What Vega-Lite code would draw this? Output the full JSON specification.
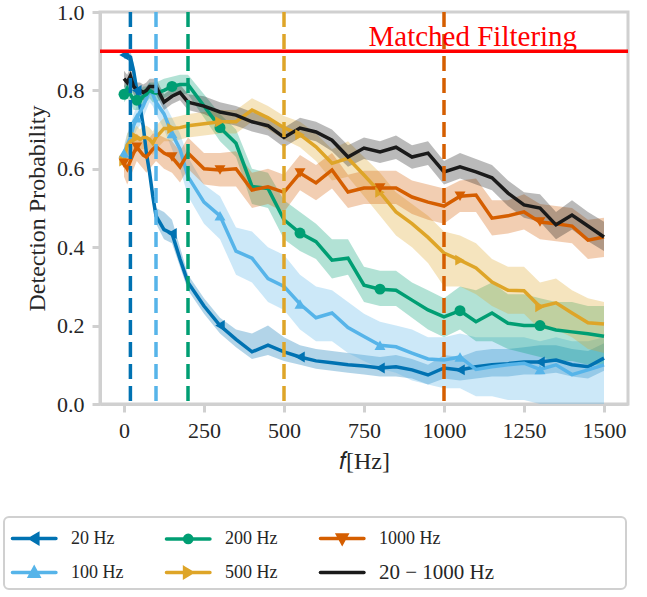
{
  "$schema": "https://vega.github.io/schema/vega-lite/v6.json",
  "width": 528,
  "height": 392,
  "autosize": "none",
  "padding": {"left": 100, "top": 12, "right": 19, "bottom": 193},
  "background": "white",
  "config": {
    "font": "Liberation Serif",
    "view": {"stroke": "#d0d0d0", "strokeWidth": 3},
    "axis": {
      "domainColor": "#d0d0d0", "domainWidth": 3, "tickColor": "#d0d0d0", "tickWidth": 3, "tickSize": 8,
      "grid": false, "labelFontSize": 22, "labelColor": "#262626", "titleFontSize": 24, "titleColor": "#262626",
      "titleFontWeight": "normal", "labelFont": "Liberation Serif", "titleFont": "Liberation Serif",
      "labelPadding": 8, "labelOverlap": false
    }
  },
  "datasets": {
    "curves": [
      {"s":"20 Hz","x":0,"y":0.89,"l":0.88,"h":0.9,"m":1},
      {"s":"20 Hz","x":10,"y":0.89,"l":0.88,"h":0.9},
      {"s":"20 Hz","x":20,"y":0.885,"l":0.87,"h":0.9},
      {"s":"20 Hz","x":30,"y":0.85,"l":0.83,"h":0.87},
      {"s":"20 Hz","x":40,"y":0.8,"l":0.78,"h":0.82,"m":1},
      {"s":"20 Hz","x":50,"y":0.76,"l":0.74,"h":0.78},
      {"s":"20 Hz","x":60,"y":0.71,"l":0.69,"h":0.73},
      {"s":"20 Hz","x":70,"y":0.64,"l":0.62,"h":0.66},
      {"s":"20 Hz","x":80,"y":0.59,"l":0.57,"h":0.61},
      {"s":"20 Hz","x":90,"y":0.53,"l":0.51,"h":0.55},
      {"s":"20 Hz","x":100,"y":0.48,"l":0.46,"h":0.5},
      {"s":"20 Hz","x":125,"y":0.445,"l":0.42,"h":0.49},
      {"s":"20 Hz","x":150,"y":0.435,"l":0.41,"h":0.47,"m":1},
      {"s":"20 Hz","x":175,"y":0.37,"l":0.35,"h":0.4},
      {"s":"20 Hz","x":200,"y":0.31,"l":0.29,"h":0.33},
      {"s":"20 Hz","x":250,"y":0.25,"l":0.23,"h":0.27},
      {"s":"20 Hz","x":300,"y":0.2,"l":0.18,"h":0.22,"m":1},
      {"s":"20 Hz","x":350,"y":0.165,"l":0.145,"h":0.19},
      {"s":"20 Hz","x":400,"y":0.133,"l":0.115,"h":0.18},
      {"s":"20 Hz","x":450,"y":0.15,"l":0.125,"h":0.2},
      {"s":"20 Hz","x":500,"y":0.133,"l":0.11,"h":0.17},
      {"s":"20 Hz","x":550,"y":0.12,"l":0.1,"h":0.15,"m":1},
      {"s":"20 Hz","x":600,"y":0.11,"l":0.09,"h":0.14},
      {"s":"20 Hz","x":650,"y":0.105,"l":0.085,"h":0.135},
      {"s":"20 Hz","x":700,"y":0.1,"l":0.08,"h":0.13},
      {"s":"20 Hz","x":750,"y":0.097,"l":0.075,"h":0.125},
      {"s":"20 Hz","x":800,"y":0.092,"l":0.07,"h":0.12,"m":1},
      {"s":"20 Hz","x":850,"y":0.095,"l":0.07,"h":0.125},
      {"s":"20 Hz","x":900,"y":0.087,"l":0.065,"h":0.115},
      {"s":"20 Hz","x":950,"y":0.074,"l":0.05,"h":0.1},
      {"s":"20 Hz","x":1000,"y":0.092,"l":0.065,"h":0.125},
      {"s":"20 Hz","x":1050,"y":0.087,"l":0.06,"h":0.12,"m":1},
      {"s":"20 Hz","x":1100,"y":0.095,"l":0.065,"h":0.135},
      {"s":"20 Hz","x":1150,"y":0.1,"l":0.07,"h":0.14},
      {"s":"20 Hz","x":1200,"y":0.103,"l":0.07,"h":0.14},
      {"s":"20 Hz","x":1250,"y":0.107,"l":0.075,"h":0.145},
      {"s":"20 Hz","x":1300,"y":0.107,"l":0.075,"h":0.15,"m":1},
      {"s":"20 Hz","x":1350,"y":0.112,"l":0.08,"h":0.15},
      {"s":"20 Hz","x":1400,"y":0.1,"l":0.07,"h":0.14},
      {"s":"20 Hz","x":1450,"y":0.095,"l":0.065,"h":0.135},
      {"s":"20 Hz","x":1500,"y":0.117,"l":0.085,"h":0.155},

      {"s":"100 Hz","x":0,"y":0.64,"l":0.62,"h":0.66,"m":1},
      {"s":"100 Hz","x":10,"y":0.66,"l":0.63,"h":0.69},
      {"s":"100 Hz","x":20,"y":0.68,"l":0.65,"h":0.71},
      {"s":"100 Hz","x":30,"y":0.71,"l":0.68,"h":0.74},
      {"s":"100 Hz","x":40,"y":0.73,"l":0.7,"h":0.76,"m":1},
      {"s":"100 Hz","x":50,"y":0.745,"l":0.71,"h":0.78},
      {"s":"100 Hz","x":60,"y":0.76,"l":0.73,"h":0.79},
      {"s":"100 Hz","x":70,"y":0.78,"l":0.75,"h":0.81},
      {"s":"100 Hz","x":80,"y":0.8,"l":0.77,"h":0.82},
      {"s":"100 Hz","x":90,"y":0.79,"l":0.76,"h":0.81},
      {"s":"100 Hz","x":100,"y":0.77,"l":0.74,"h":0.8},
      {"s":"100 Hz","x":125,"y":0.74,"l":0.7,"h":0.77},
      {"s":"100 Hz","x":150,"y":0.69,"l":0.65,"h":0.73,"m":1},
      {"s":"100 Hz","x":175,"y":0.65,"l":0.6,"h":0.69},
      {"s":"100 Hz","x":200,"y":0.58,"l":0.53,"h":0.63},
      {"s":"100 Hz","x":250,"y":0.515,"l":0.46,"h":0.56},
      {"s":"100 Hz","x":300,"y":0.48,"l":0.42,"h":0.53,"m":1},
      {"s":"100 Hz","x":350,"y":0.39,"l":0.33,"h":0.45},
      {"s":"100 Hz","x":400,"y":0.372,"l":0.31,"h":0.44},
      {"s":"100 Hz","x":450,"y":0.32,"l":0.26,"h":0.4},
      {"s":"100 Hz","x":500,"y":0.3,"l":0.24,"h":0.38},
      {"s":"100 Hz","x":550,"y":0.255,"l":0.19,"h":0.33,"m":1},
      {"s":"100 Hz","x":600,"y":0.22,"l":0.16,"h":0.3},
      {"s":"100 Hz","x":650,"y":0.232,"l":0.16,"h":0.29},
      {"s":"100 Hz","x":700,"y":0.195,"l":0.13,"h":0.26},
      {"s":"100 Hz","x":750,"y":0.172,"l":0.11,"h":0.23},
      {"s":"100 Hz","x":800,"y":0.15,"l":0.09,"h":0.21,"m":1},
      {"s":"100 Hz","x":850,"y":0.146,"l":0.08,"h":0.2},
      {"s":"100 Hz","x":900,"y":0.13,"l":0.06,"h":0.19},
      {"s":"100 Hz","x":950,"y":0.115,"l":0.05,"h":0.17},
      {"s":"100 Hz","x":1000,"y":0.112,"l":0.04,"h":0.17},
      {"s":"100 Hz","x":1050,"y":0.12,"l":0.04,"h":0.18,"m":1},
      {"s":"100 Hz","x":1100,"y":0.088,"l":0.02,"h":0.17},
      {"s":"100 Hz","x":1150,"y":0.095,"l":0.02,"h":0.17},
      {"s":"100 Hz","x":1200,"y":0.1,"l":0.01,"h":0.17},
      {"s":"100 Hz","x":1250,"y":0.104,"l":0.01,"h":0.17},
      {"s":"100 Hz","x":1300,"y":0.088,"l":0.0,"h":0.16,"m":1},
      {"s":"100 Hz","x":1350,"y":0.1,"l":0.0,"h":0.17},
      {"s":"100 Hz","x":1400,"y":0.075,"l":0.0,"h":0.16},
      {"s":"100 Hz","x":1450,"y":0.087,"l":0.0,"h":0.16},
      {"s":"100 Hz","x":1500,"y":0.1,"l":0.0,"h":0.17},

      {"s":"200 Hz","x":0,"y":0.79,"l":0.77,"h":0.81,"m":1},
      {"s":"200 Hz","x":10,"y":0.805,"l":0.78,"h":0.83},
      {"s":"200 Hz","x":20,"y":0.79,"l":0.77,"h":0.81},
      {"s":"200 Hz","x":30,"y":0.775,"l":0.75,"h":0.8},
      {"s":"200 Hz","x":40,"y":0.775,"l":0.75,"h":0.8,"m":1},
      {"s":"200 Hz","x":50,"y":0.775,"l":0.75,"h":0.8},
      {"s":"200 Hz","x":60,"y":0.785,"l":0.76,"h":0.81},
      {"s":"200 Hz","x":70,"y":0.79,"l":0.77,"h":0.81},
      {"s":"200 Hz","x":80,"y":0.8,"l":0.78,"h":0.82},
      {"s":"200 Hz","x":90,"y":0.795,"l":0.77,"h":0.82},
      {"s":"200 Hz","x":100,"y":0.793,"l":0.77,"h":0.82},
      {"s":"200 Hz","x":125,"y":0.8,"l":0.78,"h":0.83},
      {"s":"200 Hz","x":150,"y":0.81,"l":0.79,"h":0.835,"m":1},
      {"s":"200 Hz","x":175,"y":0.815,"l":0.79,"h":0.84},
      {"s":"200 Hz","x":200,"y":0.815,"l":0.79,"h":0.84},
      {"s":"200 Hz","x":250,"y":0.76,"l":0.73,"h":0.79},
      {"s":"200 Hz","x":300,"y":0.705,"l":0.67,"h":0.74,"m":1},
      {"s":"200 Hz","x":350,"y":0.665,"l":0.63,"h":0.7},
      {"s":"200 Hz","x":400,"y":0.555,"l":0.51,"h":0.6},
      {"s":"200 Hz","x":450,"y":0.55,"l":0.5,"h":0.59},
      {"s":"200 Hz","x":500,"y":0.47,"l":0.42,"h":0.52},
      {"s":"200 Hz","x":550,"y":0.436,"l":0.39,"h":0.49,"m":1},
      {"s":"200 Hz","x":600,"y":0.414,"l":0.37,"h":0.46},
      {"s":"200 Hz","x":650,"y":0.367,"l":0.32,"h":0.42},
      {"s":"200 Hz","x":700,"y":0.372,"l":0.33,"h":0.42},
      {"s":"200 Hz","x":750,"y":0.303,"l":0.26,"h":0.35},
      {"s":"200 Hz","x":800,"y":0.293,"l":0.25,"h":0.34,"m":1},
      {"s":"200 Hz","x":850,"y":0.29,"l":0.25,"h":0.34},
      {"s":"200 Hz","x":900,"y":0.265,"l":0.22,"h":0.31},
      {"s":"200 Hz","x":950,"y":0.24,"l":0.19,"h":0.29},
      {"s":"200 Hz","x":1000,"y":0.222,"l":0.17,"h":0.27},
      {"s":"200 Hz","x":1050,"y":0.238,"l":0.19,"h":0.3,"m":1},
      {"s":"200 Hz","x":1100,"y":0.21,"l":0.16,"h":0.29},
      {"s":"200 Hz","x":1150,"y":0.232,"l":0.16,"h":0.31},
      {"s":"200 Hz","x":1200,"y":0.206,"l":0.14,"h":0.28},
      {"s":"200 Hz","x":1250,"y":0.2,"l":0.13,"h":0.28},
      {"s":"200 Hz","x":1300,"y":0.2,"l":0.12,"h":0.27,"m":1},
      {"s":"200 Hz","x":1350,"y":0.189,"l":0.11,"h":0.26},
      {"s":"200 Hz","x":1400,"y":0.184,"l":0.11,"h":0.26},
      {"s":"200 Hz","x":1450,"y":0.179,"l":0.1,"h":0.25},
      {"s":"200 Hz","x":1500,"y":0.173,"l":0.1,"h":0.25},

      {"s":"500 Hz","x":0,"y":0.62,"l":0.59,"h":0.65,"m":1},
      {"s":"500 Hz","x":10,"y":0.66,"l":0.63,"h":0.69},
      {"s":"500 Hz","x":20,"y":0.67,"l":0.64,"h":0.7},
      {"s":"500 Hz","x":30,"y":0.675,"l":0.65,"h":0.7},
      {"s":"500 Hz","x":40,"y":0.68,"l":0.65,"h":0.71,"m":1},
      {"s":"500 Hz","x":50,"y":0.675,"l":0.65,"h":0.7},
      {"s":"500 Hz","x":60,"y":0.68,"l":0.65,"h":0.71},
      {"s":"500 Hz","x":70,"y":0.68,"l":0.65,"h":0.71},
      {"s":"500 Hz","x":80,"y":0.675,"l":0.645,"h":0.705},
      {"s":"500 Hz","x":90,"y":0.665,"l":0.635,"h":0.695},
      {"s":"500 Hz","x":100,"y":0.68,"l":0.65,"h":0.71},
      {"s":"500 Hz","x":125,"y":0.703,"l":0.67,"h":0.73},
      {"s":"500 Hz","x":150,"y":0.703,"l":0.67,"h":0.73,"m":1},
      {"s":"500 Hz","x":175,"y":0.705,"l":0.675,"h":0.735},
      {"s":"500 Hz","x":200,"y":0.71,"l":0.68,"h":0.74},
      {"s":"500 Hz","x":250,"y":0.715,"l":0.685,"h":0.745},
      {"s":"500 Hz","x":300,"y":0.72,"l":0.69,"h":0.75,"m":1},
      {"s":"500 Hz","x":350,"y":0.72,"l":0.69,"h":0.75},
      {"s":"500 Hz","x":400,"y":0.75,"l":0.72,"h":0.78},
      {"s":"500 Hz","x":450,"y":0.73,"l":0.7,"h":0.76},
      {"s":"500 Hz","x":500,"y":0.705,"l":0.675,"h":0.735},
      {"s":"500 Hz","x":550,"y":0.687,"l":0.655,"h":0.72,"m":1},
      {"s":"500 Hz","x":600,"y":0.656,"l":0.62,"h":0.69},
      {"s":"500 Hz","x":650,"y":0.614,"l":0.57,"h":0.65},
      {"s":"500 Hz","x":700,"y":0.627,"l":0.58,"h":0.67},
      {"s":"500 Hz","x":750,"y":0.584,"l":0.53,"h":0.63},
      {"s":"500 Hz","x":800,"y":0.54,"l":0.48,"h":0.59,"m":1},
      {"s":"500 Hz","x":850,"y":0.49,"l":0.43,"h":0.54},
      {"s":"500 Hz","x":900,"y":0.46,"l":0.4,"h":0.51},
      {"s":"500 Hz","x":950,"y":0.425,"l":0.36,"h":0.48},
      {"s":"500 Hz","x":1000,"y":0.385,"l":0.3,"h":0.44},
      {"s":"500 Hz","x":1050,"y":0.367,"l":0.3,"h":0.43,"m":1},
      {"s":"500 Hz","x":1100,"y":0.347,"l":0.28,"h":0.41},
      {"s":"500 Hz","x":1150,"y":0.311,"l":0.25,"h":0.37},
      {"s":"500 Hz","x":1200,"y":0.29,"l":0.23,"h":0.35},
      {"s":"500 Hz","x":1250,"y":0.289,"l":0.23,"h":0.35},
      {"s":"500 Hz","x":1300,"y":0.248,"l":0.19,"h":0.31,"m":1},
      {"s":"500 Hz","x":1350,"y":0.258,"l":0.19,"h":0.32},
      {"s":"500 Hz","x":1400,"y":0.232,"l":0.17,"h":0.29},
      {"s":"500 Hz","x":1450,"y":0.207,"l":0.14,"h":0.27},
      {"s":"500 Hz","x":1500,"y":0.204,"l":0.13,"h":0.26},

      {"s":"1000 Hz","x":0,"y":0.614,"l":0.58,"h":0.65,"m":1},
      {"s":"1000 Hz","x":10,"y":0.6,"l":0.56,"h":0.64},
      {"s":"1000 Hz","x":20,"y":0.62,"l":0.58,"h":0.66},
      {"s":"1000 Hz","x":30,"y":0.64,"l":0.6,"h":0.68},
      {"s":"1000 Hz","x":40,"y":0.655,"l":0.62,"h":0.69,"m":1},
      {"s":"1000 Hz","x":50,"y":0.645,"l":0.61,"h":0.68},
      {"s":"1000 Hz","x":60,"y":0.635,"l":0.6,"h":0.67},
      {"s":"1000 Hz","x":70,"y":0.63,"l":0.59,"h":0.67},
      {"s":"1000 Hz","x":80,"y":0.64,"l":0.6,"h":0.68},
      {"s":"1000 Hz","x":90,"y":0.65,"l":0.61,"h":0.69},
      {"s":"1000 Hz","x":100,"y":0.657,"l":0.62,"h":0.69},
      {"s":"1000 Hz","x":125,"y":0.64,"l":0.6,"h":0.68},
      {"s":"1000 Hz","x":150,"y":0.63,"l":0.59,"h":0.67,"m":1},
      {"s":"1000 Hz","x":175,"y":0.605,"l":0.565,"h":0.645},
      {"s":"1000 Hz","x":200,"y":0.64,"l":0.6,"h":0.68},
      {"s":"1000 Hz","x":250,"y":0.6,"l":0.56,"h":0.64},
      {"s":"1000 Hz","x":300,"y":0.597,"l":0.555,"h":0.64,"m":1},
      {"s":"1000 Hz","x":350,"y":0.6,"l":0.555,"h":0.645},
      {"s":"1000 Hz","x":400,"y":0.546,"l":0.5,"h":0.59},
      {"s":"1000 Hz","x":450,"y":0.554,"l":0.51,"h":0.6},
      {"s":"1000 Hz","x":500,"y":0.54,"l":0.49,"h":0.585},
      {"s":"1000 Hz","x":550,"y":0.589,"l":0.545,"h":0.635,"m":1},
      {"s":"1000 Hz","x":600,"y":0.564,"l":0.52,"h":0.61},
      {"s":"1000 Hz","x":650,"y":0.597,"l":0.55,"h":0.64},
      {"s":"1000 Hz","x":700,"y":0.541,"l":0.5,"h":0.585},
      {"s":"1000 Hz","x":750,"y":0.551,"l":0.51,"h":0.595},
      {"s":"1000 Hz","x":800,"y":0.551,"l":0.51,"h":0.595,"m":1},
      {"s":"1000 Hz","x":850,"y":0.551,"l":0.51,"h":0.595},
      {"s":"1000 Hz","x":900,"y":0.528,"l":0.485,"h":0.57},
      {"s":"1000 Hz","x":950,"y":0.515,"l":0.47,"h":0.56},
      {"s":"1000 Hz","x":1000,"y":0.505,"l":0.46,"h":0.55},
      {"s":"1000 Hz","x":1050,"y":0.53,"l":0.49,"h":0.57,"m":1},
      {"s":"1000 Hz","x":1100,"y":0.533,"l":0.49,"h":0.575},
      {"s":"1000 Hz","x":1150,"y":0.474,"l":0.43,"h":0.52},
      {"s":"1000 Hz","x":1200,"y":0.48,"l":0.435,"h":0.52},
      {"s":"1000 Hz","x":1250,"y":0.49,"l":0.445,"h":0.535},
      {"s":"1000 Hz","x":1300,"y":0.464,"l":0.42,"h":0.51,"m":1},
      {"s":"1000 Hz","x":1350,"y":0.46,"l":0.415,"h":0.505},
      {"s":"1000 Hz","x":1400,"y":0.454,"l":0.41,"h":0.5},
      {"s":"1000 Hz","x":1450,"y":0.418,"l":0.37,"h":0.47},
      {"s":"1000 Hz","x":1500,"y":0.426,"l":0.375,"h":0.475},

      {"s":"20 − 1000 Hz","x":0,"y":0.83,"l":0.81,"h":0.85},
      {"s":"20 − 1000 Hz","x":10,"y":0.82,"l":0.8,"h":0.84},
      {"s":"20 − 1000 Hz","x":20,"y":0.837,"l":0.815,"h":0.86},
      {"s":"20 − 1000 Hz","x":30,"y":0.81,"l":0.79,"h":0.83},
      {"s":"20 − 1000 Hz","x":40,"y":0.8,"l":0.78,"h":0.82},
      {"s":"20 − 1000 Hz","x":50,"y":0.8,"l":0.78,"h":0.82},
      {"s":"20 − 1000 Hz","x":60,"y":0.795,"l":0.775,"h":0.815},
      {"s":"20 − 1000 Hz","x":70,"y":0.8,"l":0.78,"h":0.82},
      {"s":"20 − 1000 Hz","x":80,"y":0.81,"l":0.79,"h":0.83},
      {"s":"20 − 1000 Hz","x":90,"y":0.81,"l":0.79,"h":0.83},
      {"s":"20 − 1000 Hz","x":100,"y":0.81,"l":0.79,"h":0.83},
      {"s":"20 − 1000 Hz","x":125,"y":0.77,"l":0.75,"h":0.79},
      {"s":"20 − 1000 Hz","x":150,"y":0.785,"l":0.765,"h":0.805},
      {"s":"20 − 1000 Hz","x":175,"y":0.795,"l":0.775,"h":0.815},
      {"s":"20 − 1000 Hz","x":200,"y":0.77,"l":0.75,"h":0.79},
      {"s":"20 − 1000 Hz","x":250,"y":0.76,"l":0.74,"h":0.785},
      {"s":"20 − 1000 Hz","x":300,"y":0.745,"l":0.72,"h":0.77},
      {"s":"20 − 1000 Hz","x":350,"y":0.737,"l":0.71,"h":0.76},
      {"s":"20 − 1000 Hz","x":400,"y":0.72,"l":0.695,"h":0.745},
      {"s":"20 − 1000 Hz","x":450,"y":0.71,"l":0.685,"h":0.735},
      {"s":"20 − 1000 Hz","x":500,"y":0.68,"l":0.655,"h":0.705},
      {"s":"20 − 1000 Hz","x":550,"y":0.704,"l":0.68,"h":0.73},
      {"s":"20 − 1000 Hz","x":600,"y":0.694,"l":0.67,"h":0.72},
      {"s":"20 − 1000 Hz","x":650,"y":0.673,"l":0.645,"h":0.7},
      {"s":"20 − 1000 Hz","x":700,"y":0.63,"l":0.605,"h":0.66},
      {"s":"20 − 1000 Hz","x":750,"y":0.653,"l":0.625,"h":0.68},
      {"s":"20 − 1000 Hz","x":800,"y":0.643,"l":0.615,"h":0.67},
      {"s":"20 − 1000 Hz","x":850,"y":0.655,"l":0.625,"h":0.685},
      {"s":"20 − 1000 Hz","x":900,"y":0.63,"l":0.6,"h":0.66},
      {"s":"20 − 1000 Hz","x":950,"y":0.64,"l":0.61,"h":0.67},
      {"s":"20 − 1000 Hz","x":1000,"y":0.592,"l":0.56,"h":0.62},
      {"s":"20 − 1000 Hz","x":1050,"y":0.605,"l":0.575,"h":0.64},
      {"s":"20 − 1000 Hz","x":1100,"y":0.592,"l":0.56,"h":0.625},
      {"s":"20 − 1000 Hz","x":1150,"y":0.577,"l":0.545,"h":0.61},
      {"s":"20 − 1000 Hz","x":1200,"y":0.538,"l":0.505,"h":0.57},
      {"s":"20 − 1000 Hz","x":1250,"y":0.508,"l":0.475,"h":0.54},
      {"s":"20 − 1000 Hz","x":1300,"y":0.5,"l":0.465,"h":0.535},
      {"s":"20 − 1000 Hz","x":1350,"y":0.457,"l":0.42,"h":0.49},
      {"s":"20 − 1000 Hz","x":1400,"y":0.482,"l":0.445,"h":0.52},
      {"s":"20 − 1000 Hz","x":1450,"y":0.454,"l":0.415,"h":0.49},
      {"s":"20 − 1000 Hz","x":1500,"y":0.426,"l":0.39,"h":0.465}
    ],
    "cutoffs": [
      {"s":"20 Hz","x":20},
      {"s":"100 Hz","x":100},
      {"s":"200 Hz","x":200},
      {"s":"500 Hz","x":500},
      {"s":"1000 Hz","x":1000}
    ],
    "mf": [{"y":0.9,"x":1090,"t":"Matched Filtering"}]
  },
  "layer": [
    {
      "data": {"name": "curves"},
      "mark": {"type": "area", "opacity": 0.3},
      "encoding": {
        "x": {"field": "x", "type": "quantitative", "scale": {"domain": [-75, 1575], "nice": false, "zero": false},
              "axis": {"values": [0,250,500,750,1000,1250,1500], "format": "d", "title": "𝑓[Hz]", "titlePadding": 8}},
        "y": {"field": "l", "type": "quantitative", "scale": {"domain": [0, 1], "nice": false},
              "axis": {"values": [0,0.2,0.4,0.6,0.8,1.0], "format": ".1f", "title": "Detection Probability", "titlePadding": 7}},
        "y2": {"field": "h"},
        "color": {
          "field": "s", "type": "nominal",
          "scale": {"domain": ["20 Hz","200 Hz","1000 Hz","100 Hz","500 Hz","20 − 1000 Hz"],
                    "range": ["#0072B2","#009E73","#D55E00","#56B4E9","#DEA528","#1a1a1a"]},
          "legend": {
            "orient": "none", "legendX": -96, "legendY": 505, "columns": 3, "direction": "horizontal",
            "title": null, "symbolSize": 841, "symbolStrokeWidth": 3.5, "symbolOpacity": 1,
            "labelFont": "Liberation Serif", "labelFontSize": 18, "labelColor": "#262626", "labelLimit": 0,
            "labelOffset": 29, "columnPadding": 35, "rowPadding": 6, "padding": 5,
            "strokeColor": "#d0d0d0", "cornerRadius": 5, "fillColor": "white",
            "labelExpr": "datum.label == '20 − 1000 Hz' ? datum.label + '\u00a0\u00a0\u00a0\u00a0\u00a0\u00a0\u00a0\u00a0\u00a0\u00a0\u00a0\u00a0\u00a0\u00a0\u00a0\u00a0\u00a0\u00a0\u00a0\u00a0\u00a0\u00a0\u00a0\u00a0\u200b' : datum.label",
            "encode": {
              "legend": {"update": {"strokeWidth": {"value": 2}}},
              "labels": {"update": {"fontSize": {"signal": "datum.value == '20 − 1000 Hz' ? 21 : 18"}}},
              "symbols": {"update": {
                "shape": {"signal": "datum.value == '20 Hz' ? 'M-0.9,0H2.1M0.85,-0.3L0.35,0L0.85,0.3Z' : datum.value == '100 Hz' ? 'M-0.9,0H2.1M0.3,0.25L0.6,-0.3L0.9,0.25Z' : datum.value == '200 Hz' ? 'M-0.9,0H2.1M0.85,0A0.25,0.25 0 1,1 0.35,0A0.25,0.25 0 1,1 0.85,0Z' : datum.value == '500 Hz' ? 'M-0.9,0H2.1M0.35,-0.3L0.85,0L0.35,0.3Z' : datum.value == '1000 Hz' ? 'M-0.9,0H2.1M0.3,-0.25L0.6,0.3L0.9,-0.25Z' : 'M-0.9,0H2.1'"},
                "fill": {"signal": "scale('color', datum.value)"},
                "stroke": {"signal": "scale('color', datum.value)"},
                "opacity": {"value": 1},
                "strokeCap": {"value": "round"}
              }}
            }
          }
        }
      }
    },
    {
      "data": {"name": "curves"},
      "mark": {"type": "line", "strokeWidth": 3.5},
      "encoding": {
        "x": {"field": "x", "type": "quantitative"},
        "y": {"field": "y", "type": "quantitative"},
        "color": {"field": "s", "type": "nominal"}
      }
    },
    {
      "data": {"name": "curves"},
      "transform": [{"filter": "datum.m == 1"}],
      "mark": {"type": "point", "filled": true, "opacity": 1, "size": 120},
      "encoding": {
        "x": {"field": "x", "type": "quantitative"},
        "y": {"field": "y", "type": "quantitative"},
        "color": {"field": "s", "type": "nominal"},
        "shape": {"field": "s", "type": "nominal",
                  "scale": {"domain": ["20 Hz","100 Hz","200 Hz","500 Hz","1000 Hz"],
                            "range": ["triangle-left","triangle-up","circle","triangle-right","triangle-down"]},
                  "legend": null}
      }
    },
    {
      "data": {"name": "cutoffs"},
      "mark": {"type": "rule", "strokeWidth": 3.5, "strokeDash": [15, 7]},
      "encoding": {
        "x": {"field": "x", "type": "quantitative"},
        "color": {"field": "s", "type": "nominal"}
      }
    },
    {
      "data": {"name": "mf"},
      "mark": {"type": "rule", "strokeWidth": 3.5, "color": "#ff0000"},
      "encoding": {"y": {"field": "y", "type": "quantitative"}}
    },
    {
      "data": {"name": "mf"},
      "mark": {"type": "text", "color": "#ff0000", "fontSize": 29, "font": "Liberation Serif", "align": "center", "baseline": "alphabetic", "dy": -5},
      "encoding": {
        "x": {"field": "x", "type": "quantitative"},
        "y": {"field": "y", "type": "quantitative"},
        "text": {"field": "t"}
      }
    }
  ]
}
